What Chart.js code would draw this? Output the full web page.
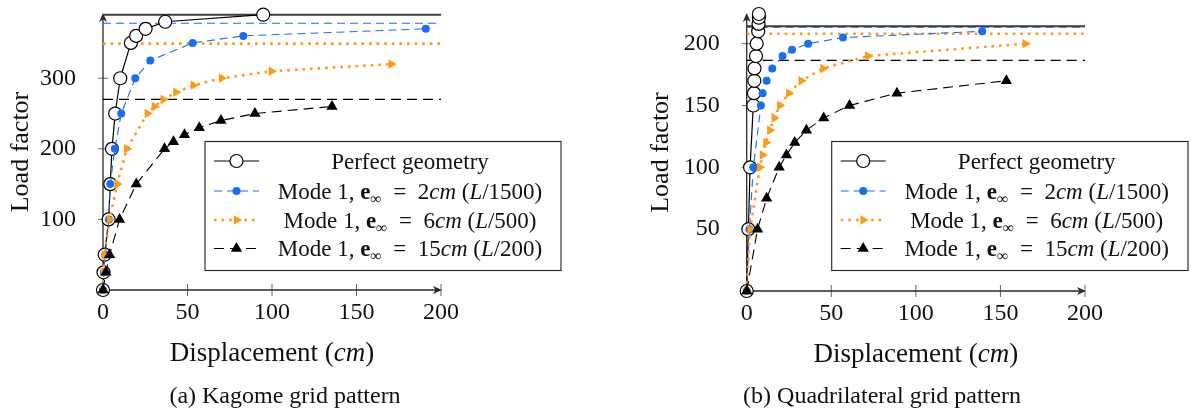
<!DOCTYPE html>
<html>
<head>
<meta charset="utf-8">
<script src="https://cdn.jsdelivr.net/npm/chart.js@4.4.1/dist/chart.umd.min.js"></script>
<style>
  html, body { margin: 0; padding: 0; background: #fff; }
  #wrap { position: relative; width: 1191px; height: 411px; }
  #wrap canvas { position: absolute; top: 0; }
</style>
</head>
<body>
<div id="wrap">
  <canvas id="kagome" width="595" height="411" style="left:0"></canvas>
  <canvas id="quad" width="596" height="411" style="left:595px"></canvas>
</div>
<script>
const SERIF = "'Liberation Serif', 'DejaVu Serif', serif";
const BLUE = '#1a6ff0';
const ORANGE = '#ff9a16';

// shared axis ticks
const xTicks = [0, 50, 100, 150, 200];
const kagYTicks = [100, 200, 300];
const quadYTicks = [50, 100, 150, 200];

// (a) Kagome grid pattern
const kagPerfectX = [0, 0.3, 1, 3.3, 4.3, 5.3, 7.2, 10.2, 16.5, 19.6, 25.2, 36.8, 94.8];
const kagPerfectY = [0, 25, 50, 100, 150, 200, 250, 300, 350, 360, 370, 380, 390];
const kagMode2X = [0, 0.5, 1.3, 3.5, 4.3, 7, 10.8, 19.1, 28, 53, 83, 191];
const kagMode2Y = [0, 25, 50, 100, 150, 200, 250, 300, 325, 350, 360, 370];
const kagMode6X = [0, 0.3, 0.8, 3.9, 8.4, 14.1, 26.3, 30.4, 35.7, 43.2, 53.5, 70.2, 99.7, 170.5];
const kagMode6Y = [0, 25, 50, 100, 150, 200, 250, 260, 270, 280, 290, 300, 310, 320];
const kagMode15X = [0, 1.7, 3.9, 9.8, 19.7, 36.4, 41.7, 48.2, 57, 69.8, 89.9, 135.5];
const kagMode15Y = [0, 25, 50, 100, 150, 200, 210, 220, 230, 240, 250, 260];
const kagLimits = [390, 378, 349, 270];

// (b) Quadrilateral grid pattern
const quadPerfectX = [0, 1, 2, 3.9, 4.3, 4.5, 4.6, 5.5, 5.9, 6.8, 7, 7.2, 7.2];
const quadPerfectY = [0, 50, 100, 150, 160, 170, 180, 190, 200, 210, 216, 221, 224];
const quadMode2X = [0, 1.6, 3.9, 8.4, 9.4, 11.8, 15.1, 21.2, 26.8, 36.3, 56.9, 139.2];
const quadMode2Y = [0, 50, 100, 150, 160, 170, 180, 190, 195, 200, 205, 210];
const quadMode6X = [0, 2, 7.8, 9.4, 11.4, 13.7, 16.3, 19.6, 24.9, 32.3, 45.1, 71.6, 164.7];
const quadMode6Y = [0, 50, 100, 110, 120, 130, 140, 150, 160, 170, 180, 190, 200];
const quadMode15X = [0, 6.4, 11.8, 19.2, 23.5, 28.4, 35.3, 45.5, 60.8, 88.8, 153.5];
const quadMode15Y = [0, 50, 75, 100, 110, 120, 130, 140, 150, 160, 170];
const quadLimits = [214, 213.4, 208, 186.5];

const seriesNames = ['Perfect geometry', 'Mode 1, e∞ = 2cm (L/1500)', 'Mode 1, e∞ = 6cm (L/500)', 'Mode 1, e∞ = 15cm (L/200)'];
const eccentricities = ['2', '6', '15'];
const spanRatios = ['1500', '500', '200'];

// rich legend text: [text, style]
const modeText = (e, r) => [['Mode 1, ', ''], ['e', 'b'], ['∞', 'sub'], ['\u2002=\u2002' + e, ''], ['cm', 'i'], [' (', ''], ['L', 'i'], ['/' + r + ')', '']];
const legendTexts = [[['Perfect geometry', '']]].concat(eccentricities.map((e, i) => modeText(e, spanRatios[i])));

const STYLES = [
  { borderColor: '#000', borderWidth: 1.2, borderDash: [], pointStyle: 'circle', pointRadius: 6.5,
    pointBackgroundColor: '#fff', pointBorderColor: '#000', pointBorderWidth: 1.2 },
  { borderColor: BLUE, borderWidth: 1.1, borderDash: [8, 5], pointStyle: 'circle', pointRadius: 4,
    pointBackgroundColor: BLUE, pointBorderColor: BLUE, pointBorderWidth: 0 },
  { borderColor: ORANGE, borderWidth: 2.6, borderDash: [2.6, 5], pointStyle: 'triangle', pointRotation: 90, pointRadius: 5.5,
    pointBackgroundColor: ORANGE, pointBorderColor: ORANGE, pointBorderWidth: 0 },
  { borderColor: '#000', borderWidth: 1.1, borderDash: [10, 6], pointStyle: 'triangle', pointRadius: 6.5,
    pointBackgroundColor: '#000', pointBorderColor: '#000', pointBorderWidth: 0 },
];

function buildDatasets(series, limits) {
  const sets = series.map(([xs, ys], i) => ({
    label: seriesNames[i],
    legendText: legendTexts[i],
    data: xs.map((x, k) => ({ x, y: ys[k] })),
    ...STYLES[i],
    showLine: true, tension: 0, clip: false, order: 4 - i,
  }));
  limits.forEach((v, i) => sets.push({
    data: [{ x: xTicks[0], y: v }, { x: xTicks[xTicks.length - 1], y: v }],
    borderColor: i === 0 ? '#3c3c3c' : STYLES[i].borderColor,
    borderWidth: i === 0 ? 2 : STYLES[i].borderWidth,
    borderDash: STYLES[i].borderDash,
    showLine: true, pointRadius: 0, clip: false, order: 10,
  }));
  return sets;
}

function drawRich(ctx, segs, cx, cy, size) {
  const fontFor = st => (st === 'i' ? 'italic ' : '') + (st === 'b' ? 'bold ' : '') +
    (st === 'sub' ? Math.round(size * 0.7) : size) + 'px ' + SERIF;
  let w = 0;
  segs.forEach(([t, st]) => { ctx.font = fontFor(st); w += ctx.measureText(t).width; });
  let x = cx - w / 2;
  ctx.textAlign = 'left';
  ctx.textBaseline = 'alphabetic';
  segs.forEach(([t, st]) => {
    ctx.font = fontFor(st);
    ctx.fillText(t, x, cy + size * 0.33 + (st === 'sub' ? size * 0.22 : 0));
    x += ctx.measureText(t).width;
  });
}

function arrowHead(ctx, x, y, ang) {
  ctx.save();
  ctx.translate(x, y);
  ctx.rotate(ang);
  ctx.beginPath();
  ctx.moveTo(1, 0);
  ctx.lineTo(-8, -4);
  ctx.lineTo(-5.5, 0);
  ctx.lineTo(-8, 4);
  ctx.closePath();
  ctx.fill();
  ctx.restore();
}

// axis lines with arrows, ticks crossing the axes, x title and caption
const axisArrows = {
  id: 'axisArrows',
  beforeDatasetsDraw(chart, args, opts) {
    const { ctx, chartArea: a, scales: { x, y } } = chart;
    const x0 = x.getPixelForValue(0), y0 = y.getPixelForValue(0);
    ctx.save();
    ctx.strokeStyle = '#555';
    ctx.lineWidth = 0.9;
    ctx.beginPath();
    x.ticks.forEach(t => {
      if (t.value <= 0) return;
      const p = x.getPixelForValue(t.value);
      ctx.moveTo(p, y0 - 6); ctx.lineTo(p, y0 + 6);
    });
    y.ticks.forEach(t => {
      const p = y.getPixelForValue(t.value);
      ctx.moveTo(x0 - 5, p); ctx.lineTo(x0 + 5, p);
    });
    ctx.stroke();
    ctx.strokeStyle = '#2a2a2a';
    ctx.fillStyle = '#2a2a2a';
    ctx.lineWidth = 1.3;
    ctx.beginPath();
    ctx.moveTo(x0, y0); ctx.lineTo(a.right - 3, y0);
    ctx.moveTo(x0, y0); ctx.lineTo(x0, a.top + 3);
    ctx.stroke();
    arrowHead(ctx, a.right, y0, 0);
    arrowHead(ctx, x0, a.top, -Math.PI / 2);
    ctx.fillStyle = '#111';
    drawRich(ctx, [['Displacement (', ''], ['cm', 'i'], [')', '']], (a.left + a.right) / 2, a.bottom + 62, 27);
    drawRich(ctx, [[opts.caption, '']], opts.captionX, opts.captionY, 24);
    ctx.restore();
  }
};

// boxed legend like the pgfplots one
const boxLegend = {
  id: 'boxLegend',
  afterDatasetsDraw(chart, args, opts) {
    const { ctx } = chart;
    const { left, top, width, height, rows, textX } = opts;
    ctx.save();
    ctx.fillStyle = '#fff';
    ctx.fillRect(left, top, width, height);
    ctx.strokeStyle = '#222';
    ctx.lineWidth = 1.1;
    ctx.strokeRect(left, top, width, height);
    chart.data.datasets.filter(d => d.legendText).forEach((ds, i) => {
      const cy = top + rows[i];
      ctx.save();
      ctx.strokeStyle = ds.borderColor;
      ctx.lineWidth = ds.borderWidth;
      ctx.setLineDash(ds.borderDash);
      ctx.beginPath();
      ctx.moveTo(left + 9, cy);
      ctx.lineTo(left + 54, cy);
      ctx.stroke();
      ctx.setLineDash([]);
      ctx.fillStyle = ds.pointBackgroundColor;
      ctx.strokeStyle = ds.pointBorderColor;
      Chart.helpers.drawPoint(ctx, {
        pointStyle: ds.pointStyle, radius: ds.pointRadius,
        rotation: ds.pointRotation || 0, borderWidth: ds.pointBorderWidth
      }, left + 31.5, cy);
      ctx.restore();
      ctx.fillStyle = '#111';
      drawRich(ctx, ds.legendText, left + textX, cy, 23);
    });
    ctx.restore();
  }
};

Chart.defaults.font.family = SERIF;
Chart.defaults.color = '#111';

function makeChart(id, series, limits, cfg) {
  return new Chart(document.getElementById(id), {
    type: 'scatter',
    data: { datasets: buildDatasets(series, limits) },
    plugins: [axisArrows, boxLegend],
    options: {
      responsive: false,
      animation: false,
      events: [],
      layout: { padding: { left: cfg.padLeft, top: 14, right: cfg.padRight, bottom: 2 } },
      scales: {
        x: {
          type: 'linear', min: xTicks[0], max: xTicks[xTicks.length - 1],
          grid: { display: false }, border: { display: false },
          afterBuildTicks: ax => { ax.ticks = xTicks.map(value => ({ value })); },
          afterFit: s => { s.height = cfg.xHeight; s.paddingLeft = 0; s.paddingRight = 0; },
          ticks: { font: { size: 24 }, padding: 0, maxRotation: 0 },
        },
        y: {
          type: 'linear', min: 0, max: cfg.yMax,
          grid: { display: false }, border: { display: false },
          afterBuildTicks: ax => { ax.ticks = cfg.yTicks.map(value => ({ value })); },
          afterFit: s => { s.width = cfg.yWidth; s.paddingTop = 0; s.paddingBottom = 0; },
          ticks: { font: { size: 24 }, padding: 19 },
          title: { display: true, text: 'Load factor', font: { size: 26 }, padding: { top: 6, bottom: 0 } },
        },
      },
      plugins: {
        legend: { display: false },
        tooltip: { enabled: false },
        axisArrows: { caption: cfg.caption, captionX: cfg.captionX, captionY: 395 },
        boxLegend: cfg.legend,
      },
    },
  });
}

makeChart('kagome',
  [[kagPerfectX, kagPerfectY], [kagMode2X, kagMode2Y], [kagMode6X, kagMode6Y], [kagMode15X, kagMode15Y]],
  kagLimits,
  { padLeft: 0, padRight: 154, yWidth: 103, xHeight: 119, yMax: 391, yTicks: kagYTicks,
    caption: '(a) Kagome grid pattern', captionX: 285,
    legend: { left: 205, top: 141.5, width: 356, height: 129, rows: [19.5, 49.5, 78.5, 107], textX: 205 } });

makeChart('quad',
  [[quadPerfectX, quadPerfectY], [quadMode2X, quadMode2Y], [quadMode6X, quadMode6Y], [quadMode15X, quadMode15Y]],
  quadLimits,
  { padLeft: 45, padRight: 106, yWidth: 106.7, xHeight: 118, yMax: 224, yTicks: quadYTicks,
    caption: '(b) Quadrilateral grid pattern', captionX: 287,
    legend: { left: 236.7, top: 141.5, width: 356.3, height: 129, rows: [19.5, 49.5, 78.5, 107], textX: 205 } });
</script>
</body>
</html>
